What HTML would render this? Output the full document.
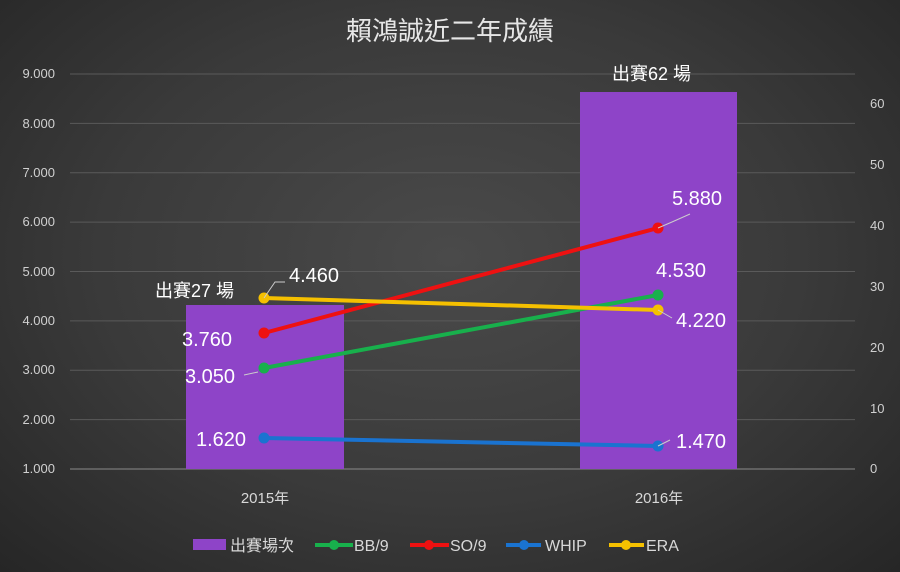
<!DOCTYPE html>
<html><head><meta charset="utf-8"><style>
html,body{margin:0;padding:0;}
body{width:900px;height:572px;overflow:hidden;background:radial-gradient(ellipse at 50% 45%,#4a4a4a 0%,#3a3a3a 55%,#262626 100%);}
svg{display:block;font-family:"Liberation Sans","Noto Sans CJK TC",sans-serif;}
</style></head><body>
<svg width="900" height="572" viewBox="0 0 900 572">
<text x="450" y="40" fill="#e6e6e6" font-size="26" text-anchor="middle">賴鴻誠近二年成績</text>
<g stroke="#5a5a5a" stroke-width="1">
<line x1="70" x2="855" y1="74" y2="74"/><line x1="70" x2="855" y1="123.4" y2="123.4"/>
<line x1="70" x2="855" y1="172.8" y2="172.8"/><line x1="70" x2="855" y1="222.1" y2="222.1"/>
<line x1="70" x2="855" y1="271.5" y2="271.5"/><line x1="70" x2="855" y1="320.9" y2="320.9"/>
<line x1="70" x2="855" y1="370.3" y2="370.3"/><line x1="70" x2="855" y1="419.6" y2="419.6"/>
</g>
<line x1="70" x2="855" y1="469" y2="469" stroke="#8a8a8a"/>
<g fill="#d0d0d0" font-size="13" text-anchor="end">
<text x="55" y="78">9.000</text><text x="55" y="128">8.000</text><text x="55" y="177">7.000</text>
<text x="55" y="226">6.000</text><text x="55" y="276">5.000</text><text x="55" y="325">4.000</text>
<text x="55" y="374">3.000</text><text x="55" y="424">2.000</text><text x="55" y="473">1.000</text>
</g>
<g fill="#d0d0d0" font-size="13">
<text x="870" y="473">0</text><text x="870" y="413">10</text><text x="870" y="352">20</text>
<text x="870" y="291">30</text><text x="870" y="230">40</text><text x="870" y="169">50</text><text x="870" y="108">60</text>
</g>
<rect x="186" y="305" width="158" height="164" fill="#8e44c8"/>
<rect x="580" y="92" width="157" height="377" fill="#8e44c8"/>
<g fill="#d8d8d8" font-size="15" text-anchor="middle">
<text x="265" y="503">2015年</text><text x="659" y="503">2016年</text>
</g>
<g stroke-width="4" stroke-linecap="round">
<line x1="264" y1="438" x2="658" y2="446" stroke="#1a73d0"/>
<line x1="264" y1="368" x2="658" y2="295" stroke="#18b04c"/>
<line x1="264" y1="333" x2="658" y2="228" stroke="#ee1111"/>
<line x1="264" y1="298" x2="658" y2="310" stroke="#f5c000"/>
</g>
<g>
<circle cx="264" cy="438" r="5.5" fill="#1a73d0"/><circle cx="658" cy="446" r="5.5" fill="#1a73d0"/>
<circle cx="264" cy="368" r="5.5" fill="#18b04c"/><circle cx="658" cy="295" r="5.5" fill="#18b04c"/>
<circle cx="264" cy="333" r="5.5" fill="#ee1111"/><circle cx="658" cy="228" r="5.5" fill="#ee1111"/>
<circle cx="264" cy="298" r="5.5" fill="#f5c000"/><circle cx="658" cy="310" r="5.5" fill="#f5c000"/>
</g>
<g stroke="#cccccc" stroke-width="1" fill="none">
<polyline points="264,298 275,282 285,282"/>
<polyline points="658,228 672,222 690,214"/>
<polyline points="658,310 672,318"/>
<polyline points="658,446 670,440"/>
<polyline points="244,375 258,372"/>
</g>
<g fill="#ffffff" font-size="20">
<text x="155" y="297" font-size="18">出賽27 場</text>
<text x="289" y="282">4.460</text>
<text x="182" y="346">3.760</text>
<text x="185" y="383">3.050</text>
<text x="196" y="446">1.620</text>
<text x="612" y="80" font-size="18">出賽62 場</text>
<text x="672" y="205">5.880</text>
<text x="656" y="277">4.530</text>
<text x="676" y="327">4.220</text>
<text x="676" y="448">1.470</text>
</g>
<g font-size="16" fill="#d8d8d8">
<rect x="193" y="539" width="33" height="11" fill="#8e44c8"/>
<text x="230" y="551">出賽場次</text>
<line x1="315" x2="353" y1="545" y2="545" stroke="#18b04c" stroke-width="4"/><circle cx="334" cy="545" r="5" fill="#18b04c"/>
<text x="354" y="551">BB/9</text>
<line x1="410" x2="449" y1="545" y2="545" stroke="#ee1111" stroke-width="4"/><circle cx="429" cy="545" r="5" fill="#ee1111"/>
<text x="450" y="551">SO/9</text>
<line x1="506" x2="541" y1="545" y2="545" stroke="#1a73d0" stroke-width="4"/><circle cx="524" cy="545" r="5" fill="#1a73d0"/>
<text x="545" y="551">WHIP</text>
<line x1="609" x2="644" y1="545" y2="545" stroke="#f5c000" stroke-width="4"/><circle cx="626" cy="545" r="5" fill="#f5c000"/>
<text x="646" y="551">ERA</text>
</g>
</svg>
</body></html>
